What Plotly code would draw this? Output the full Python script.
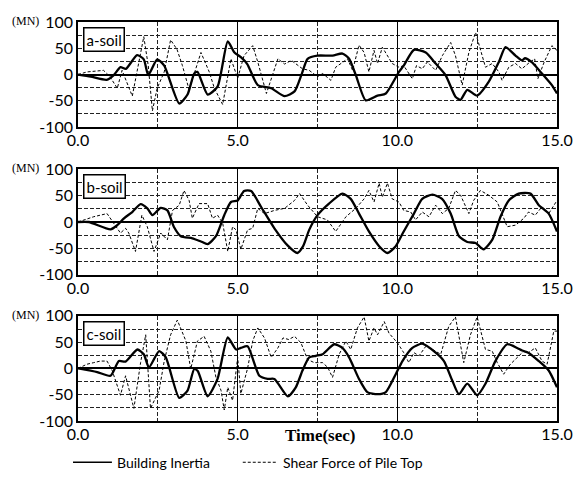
import plotly.graph_objects as go

# ---------------- data ----------------
panel_names = ["a-soil", "b-soil", "c-soil"]
x_ticks = [0, 5, 10, 15]
x_tick_text = ["0.0", "5.0", "10.0", "15.0"]
y_ticks = [-100, -50, 0, 50, 100]
y_tick_text = ["-100", "-50", "0", "50", "100"]
series_names = ["Building Inertia", "Shear Force of Pile Top"]

# a-soil
a_bi_t = [0, 0.4, 0.9, 1.12, 1.33, 1.5, 1.85, 2.06, 2.2, 2.48,
          2.7, 3.17, 3.43, 3.64, 3.74, 4.06, 4.37, 4.69, 4.9, 5.1,
          5.3, 5.63, 6.05, 6.47, 6.78, 7.0, 7.19, 7.5, 7.97, 8.28,
          8.49, 8.7, 9.01, 9.38, 9.64, 10.05, 10.2, 10.52, 10.89, 11.2,
          11.51, 11.82, 11.98, 12.19, 12.5, 12.86, 13.18, 13.39, 13.7, 13.9,
          14.0, 14.2, 14.53, 14.84, 15.0]
a_bi = [0, -4, -10, -1, 14, 11, 37, 29, -1, 29,
        17, -55, -38, 2, 5, -38, -23, 63, 42, 33,
        20, -20, -26, -41, -32, 0, 30, 36, 36, 40,
        30, -1, -49, -40, -36, 5, 17, 47, 42, 21,
        -1, -42, -48, -29, -40, -14, 24, 52, 36, 27,
        31, 24, 2, -20, -36]
a_sf_t = [0, 0.28, 0.8, 1.0, 1.23, 1.38, 1.7, 2.06, 2.2, 2.33,
          2.48, 2.7, 2.9, 3.1, 3.27, 3.48, 3.85, 4.11, 4.27, 4.53,
          4.79, 5.0, 5.2, 5.47, 5.63, 5.9, 6.26, 6.47, 6.68, 6.89,
          7.03, 7.24, 7.5, 7.66, 7.92, 8.07, 8.44, 8.6, 8.8, 8.96,
          9.11, 9.27, 9.38, 9.53, 9.69, 9.84, 10.05, 10.2, 10.47, 10.6,
          10.78, 10.94, 11.2, 11.41, 11.67, 11.82, 12.03, 12.24, 12.45, 12.6,
          12.76, 12.97, 13.18, 13.28, 13.49, 13.7, 13.9, 14.1, 14.3, 14.4,
          14.6, 14.84, 15.0]
a_sf = [0, 5, 8, -4, -26, 8, -41, 72, 17, -69,
        -26, 5, 66, 48, 17, -29, 42, 5, -26, -57,
        30, -7, 36, 55, 24, -36, 30, 20, 27, 17,
        11, 8, -4, 2, -11, 14, 30, 8, 56, 42,
        5, 46, 21, 52, 36, 21, 14, 17, -8, 17,
        11, 24, 8, 36, 61, 36, -20, 42, 80, 49,
        14, 21, 5, -11, 14, 21, 11, 21, 30, -8,
        24, 55, 46]

# b-soil
b_bi_t = [0, 0.34, 1.02, 1.23, 1.44, 1.7, 1.96, 2.17, 2.33, 2.59,
          2.8, 3.0, 3.22, 3.58, 3.85, 4.06, 4.32, 4.58, 4.79, 5.0,
          5.2, 5.42, 5.73, 6.15, 6.57, 6.87, 7.05, 7.24, 7.5, 7.86,
          8.28, 8.54, 8.8, 9.11, 9.43, 9.69, 9.95, 10.2, 10.52, 10.78,
          11.1, 11.4, 11.67, 11.93, 12.19, 12.45, 12.7, 12.97, 13.23, 13.49,
          13.8, 14.17, 14.43, 14.74, 15.0]
b_bi = [0, 0, -14, -6, 7, 19, 34, 26, 13, 27,
        22, -9, -27, -31, -37, -42, -27, 13, 38, 41,
        59, 59, 29, -12, -45, -59, -46, -15, 13, 35,
        54, 44, 16, -18, -46, -59, -46, -18, 16, 44,
        52, 44, 16, -27, -38, -40, -52, -34, 10, 41,
        54, 54, 32, 16, -18]
b_sf_t = [0, 0.49, 0.91, 1.12, 1.33, 1.49, 1.59, 1.8, 2.0, 2.17,
          2.38, 2.59, 2.8, 2.96, 3.17, 3.32, 3.48, 3.58, 3.79, 4.06,
          4.21, 4.37, 4.53, 4.69, 4.84, 4.95, 5.1, 5.31, 5.47, 5.63,
          5.84, 6.15, 6.47, 6.78, 6.94, 7.19, 7.5, 7.81, 8.07, 8.39,
          8.7, 8.96, 9.11, 9.27, 9.43, 9.53, 9.69, 9.84, 10.05, 10.2,
          10.42, 10.57, 10.78, 10.99, 11.2, 11.41, 11.61, 11.82, 11.98, 12.24,
          12.39, 12.6, 12.86, 13.13, 13.44, 13.7, 13.96, 14.11, 14.32, 14.53,
          14.74, 15.0]
b_sf = [0, 10, 16, -2, -21, -12, -21, -56, 13, -9,
        -56, -21, -34, 22, 32, 60, 41, 7, 35, 35,
        7, 13, -2, -56, -9, -15, -52, -15, -12, 26,
        16, 22, 26, 41, 54, 32, 10, 4, -18, 10,
        26, 44, 60, 38, 74, 47, 74, 44, 38, 22,
        19, 4, 19, 10, 32, 16, 26, 60, 51, 16,
        41, 60, 51, 38, -9, -6, 7, 19, 13, 29,
        16, 41]

# c-soil
c_bi_t = [0, 0.6, 1.02, 1.28, 1.49, 1.86, 2.06, 2.22, 2.54, 2.75,
          3.17, 3.43, 3.64, 3.75, 4.06, 4.37, 4.69, 4.95, 5.1, 5.31,
          5.68, 5.94, 6.15, 6.57, 6.82, 7.03, 7.24, 7.45, 7.66, 8.02,
          8.28, 8.49, 8.8, 9.06, 9.38, 9.64, 9.95, 10.16, 10.47, 10.78,
          11.2, 11.46, 11.72, 11.93, 12.19, 12.5, 12.76, 13.07, 13.44, 13.75,
          13.91, 14.1, 14.43, 14.74, 15.0]
c_bi = [0, -7, -14, 14, 13, 36, 27, 2, 33, 21,
        -56, -42, -1, -5, -53, -20, 59, 36, 39, 42,
        -14, -20, -20, -53, -36, -4, 21, 24, 27, 46,
        39, 21, -20, -45, -49, -45, -11, 14, 39, 47,
        30, 14, -23, -49, -29, -51, -29, 14, 46, 39,
        34, 30, 14, -4, -36]
c_sf_t = [0, 0.28, 0.49, 0.7, 0.91, 1.07, 1.33, 1.49, 1.75, 1.96,
          2.12, 2.27, 2.54, 2.7, 2.9, 3.11, 3.38, 3.53, 3.74, 3.95,
          4.16, 4.32, 4.48, 4.58, 4.69, 4.84, 5.0, 5.1, 5.31, 5.47,
          5.63, 5.84, 6.05, 6.26, 6.42, 6.6, 6.78, 6.98, 7.19, 7.4,
          7.66, 7.82, 7.97, 8.18, 8.39, 8.54, 8.75, 8.96, 9.11, 9.27,
          9.38, 9.59, 9.74, 10.0, 10.2, 10.36, 10.52, 10.68, 10.89, 11.1,
          11.36, 11.61, 11.82, 12.08, 12.29, 12.5, 12.76, 12.97, 13.13, 13.33,
          13.54, 13.75, 13.96, 14.1, 14.32, 14.53, 14.69, 14.9, 15.0]
c_sf = [0, 8, 11, 14, 14, -4, -51, -14, -76, 11,
        64, -76, -42, 14, 64, 92, 52, -1, 52, 61,
        33, -17, -42, -79, -36, -61, 21, -48, 0, 52,
        77, 58, 21, 39, 58, 55, 61, 49, 17, 11,
        11, 2, -17, 27, 52, 36, 77, 98, 52, 77,
        64, 89, 67, 49, 30, 11, 30, 24, 42, 36,
        27, 80, 98, 11, 64, 98, 36, 33, 11, -11,
        8, 21, 33, 30, 39, 14, 8, 71, 71]

panels = [
    (a_bi_t, a_bi, a_sf_t, a_sf),
    (b_bi_t, b_bi, b_sf_t, b_sf),
    (c_bi_t, c_bi, c_sf_t, c_sf),
]

# ---------------- figure ----------------
TICK_FONT = dict(family="Lato, Open Sans, sans-serif", size=16, color="black")
domains = [[0.7365, 1.0], [0.367, 0.6305], [0.0, 0.2635]]

fig = go.Figure()
layout = dict(
    width=585, height=482,
    margin=dict(l=78, r=27, t=15, b=61),
    paper_bgcolor="white", plot_bgcolor="white",
    showlegend=False,
    annotations=[], shapes=[],
)

for i, (bt, bv, st, sv) in enumerate(panels):
    n = "" if i == 0 else str(i + 1)
    xa, ya = "x" + n, "y" + n
    fig.add_trace(go.Scatter(x=st, y=sv, xaxis=xa, yaxis=ya, mode="lines",
                             name=series_names[1],
                             line=dict(color="black", width=1, dash="3px,2px")))
    fig.add_trace(go.Scatter(x=bt, y=bv, xaxis=xa, yaxis=ya, mode="lines",
                             name=series_names[0],
                             line=dict(color="black", width=2.3, shape="spline", smoothing=0.6)))
    layout["xaxis" + n] = dict(
        domain=[0, 1], anchor=ya, range=[0, 15],
        tickvals=x_ticks, ticktext=x_tick_text, ticks="",
        showgrid=True, gridcolor="black", gridwidth=1,
        minor=dict(tickvals=[2.5, 7.5, 12.5], showgrid=True, gridcolor="#222",
                   griddash="4px,2px", gridwidth=1, ticks=""),
        showline=True, mirror=True, linecolor="black", linewidth=1.5,
        zeroline=False, tickfont=TICK_FONT, ticklabelstandoff=-2,
    )
    layout["yaxis" + n] = dict(
        domain=domains[i], anchor=xa, range=[-100, 100],
        tickvals=y_ticks, ticktext=y_tick_text, ticks="",
        showgrid=True, gridcolor="#222", gridwidth=1, griddash="4px,2px",
        minor=dict(tickvals=[-75, -25, 25, 75], showgrid=True, gridcolor="#222",
                   griddash="4px,2px", gridwidth=1, ticks=""),
        zeroline=True, zerolinecolor="black", zerolinewidth=1.5,
        showline=True, mirror=True, linecolor="black", linewidth=1.5,
        tickfont=TICK_FONT,
    )
    layout["annotations"].append(dict(
        text=panel_names[i], xref=xa + " domain", yref=ya + " domain",
        x=0.011, y=0.955, xanchor="left", yanchor="top", showarrow=False,
        bgcolor="white", bordercolor="black", borderwidth=1.5, borderpad=2,
        font=dict(family="Lato, sans-serif", size=15, color="black"),
    ))
    layout["annotations"].append(dict(
        text="(MN)", xref=xa + " domain", yref=ya + " domain",
        x=-0.078, y=1.01, xanchor="right", yanchor="middle", showarrow=False,
        font=dict(family="Liberation Serif, serif", size=12, color="black"),
    ))

layout["annotations"].append(dict(
    text="<b>Time(sec)</b>", xref="paper", yref="paper", x=0.506, y=-0.036,
    xanchor="center", yanchor="middle", showarrow=False,
    font=dict(family="Liberation Serif, serif", size=17, color="black"),
))
# legend
layout["shapes"] += [
    dict(type="line", xref="paper", yref="paper", x0=-0.0104, x1=0.0708,
         y0=-0.1034, y1=-0.1034, line=dict(color="black", width=1.5)),
    dict(type="line", xref="paper", yref="paper", x0=0.344, x1=0.4167,
         y0=-0.1034, y1=-0.1034, line=dict(color="black", width=1, dash="3px,2px")),
]
layout["annotations"] += [
    dict(text=series_names[0], xref="paper", yref="paper", x=0.077, y=-0.1034,
         xanchor="left", yanchor="middle", showarrow=False,
         font=dict(family="Lato, sans-serif", size=14, color="black")),
    dict(text=series_names[1], xref="paper", yref="paper", x=0.423, y=-0.1034,
         xanchor="left", yanchor="middle", showarrow=False,
         font=dict(family="Lato, sans-serif", size=14, color="black")),
]

fig.update_layout(**layout)
fig.write_html("out.html")
